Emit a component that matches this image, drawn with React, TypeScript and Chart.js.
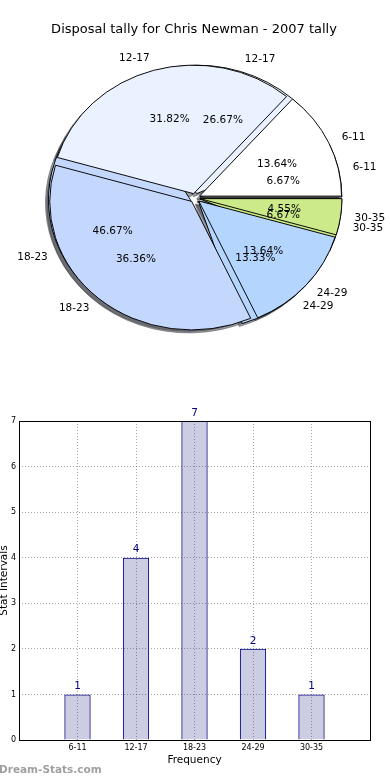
import React, { useEffect, useRef } from 'react';
import { Chart, registerables } from 'chart.js';

Chart.register(...registerables);

// ---------- data ----------
const categories = ['6-11', '12-17', '18-23', '24-29', '30-35'];
const pieTallyA = [1, 4, 7, 2, 1]; // lower pie (percent of 15)
const pieTallyB = [3, 7, 8, 3, 1]; // upper pie (percent of 22)
const barValues = [1, 4, 7, 2, 1];
const pieColors = ['#ffffff', '#eaf1ff', '#c4d8fe', '#b4d5fe', '#cdea8b'];
const chartTitle = 'Disposal tally for Chris Newman - 2007 tally';
const xAxisTitle = 'Frequency';
const yAxisTitle = 'Stat Intervals';
const watermark = 'Dream-Stats.com';

// ---------- style ----------
const FONT = '"DejaVu Sans", Verdana, sans-serif';
const K = 0.905; // vertical squash of the pie (ellipse)
const R = 142; // pie radius
const EXPLODE = 5; // wedge offset in px

const rev = <T,>(a: T[]) => [...a].reverse();

function pieConfig(values: number[], plugin: any) {
  return {
    type: 'pie' as const,
    data: {
      labels: rev(categories),
      datasets: [
        {
          data: rev(values),
          backgroundColor: rev(pieColors),
          borderColor: '#000000',
          borderWidth: 1,
          borderAlign: 'center',
        },
      ],
    },
    options: {
      animation: false,
      responsive: false,
      events: [],
      radius: R,
      rotation: 90,
      layout: { padding: { top: 0, bottom: 4, left: 0, right: 0 } },
      plugins: { legend: { display: false }, tooltip: { enabled: false }, title: { display: false } },
    },
    plugins: [plugin],
  };
}

function arcPath(ctx: CanvasRenderingContext2D, a: any) {
  const mid = (a.startAngle + a.endAngle) / 2;
  const ox = a.x + Math.cos(mid) * EXPLODE;
  const oy = a.y + Math.sin(mid) * EXPLODE;
  ctx.beginPath();
  ctx.moveTo(ox, oy);
  ctx.arc(ox, oy, a.outerRadius, a.startAngle, a.endAngle);
  ctx.closePath();
}

function drawPie(chart: any, shadowFrom: any[] | null) {
  const ctx: CanvasRenderingContext2D = chart.ctx;
  const arcs = chart.getDatasetMeta(0).data;
  if (!arcs.length) return false;
  const cx = arcs[0].x;
  const cy = arcs[0].y;
  ctx.save();
  if (shadowFrom) {
    ctx.save();
    ctx.translate(-3, 3);
    ctx.translate(cx, cy);
    ctx.scale(1, K);
    ctx.translate(-cx, -cy);
    ctx.fillStyle = 'rgba(60,62,70,0.5)';
    ctx.strokeStyle = 'rgba(60,62,70,0.5)';
    ctx.lineWidth = 1;
    for (const c of shadowFrom) {
      if (!c) continue;
      for (const a of c.getDatasetMeta(0).data) {
        arcPath(ctx, a);
        ctx.fill();
        ctx.stroke();
      }
    }
    ctx.restore();
  }
  ctx.translate(cx, cy);
  ctx.scale(1, K);
  ctx.translate(-cx, -cy);
  for (const a of arcs) {
    const mid = (a.startAngle + a.endAngle) / 2;
    ctx.save();
    ctx.translate(Math.cos(mid) * EXPLODE, Math.sin(mid) * EXPLODE);
    a.draw(ctx);
    ctx.restore();
  }
  ctx.restore();
  return false;
}

function PieStack() {
  const lowRef = useRef<HTMLCanvasElement>(null);
  const topRef = useRef<HTMLCanvasElement>(null);

  useEffect(() => {
    const refs: { low: any; top: any } = { low: null, top: null };

    const lowPlugin = {
      id: 'lowPie',
      beforeDatasetsDraw(chart: any) {
        return drawPie(chart, [chart, refs.top]);
      },
    };

    const topPlugin = {
      id: 'topPie',
      beforeDatasetsDraw(chart: any) {
        return drawPie(chart, null);
      },
      afterDraw(chart: any) {
        const ctx: CanvasRenderingContext2D = chart.ctx;
        ctx.save();
        ctx.fillStyle = '#000';
        ctx.textBaseline = 'middle';
        ctx.font = `13px ${FONT}`;
        ctx.textAlign = 'center';
        ctx.fillText(chartTitle, 194, 30);
        ctx.font = `10.5px ${FONT}`;
        for (const c of [refs.low, chart]) {
          if (!c) continue;
          const ds = c.data.datasets[0];
          const vals: number[] = ds.data;
          const total = vals.reduce((s, v) => s + v, 0);
          c.getDatasetMeta(0).data.forEach((a: any, i: number) => {
            const mid = (a.startAngle + a.endAngle) / 2;
            const cs = Math.cos(mid);
            const sn = Math.sin(mid);
            const ex = a.x + cs * EXPLODE;
            const ey = a.y + K * sn * EXPLODE;
            const r = a.outerRadius;
            ctx.textAlign = cs >= 0 ? 'left' : 'right';
            ctx.fillText(c.data.labels[i], ex + 1.1 * r * cs, ey + 1.1 * r * K * sn);
            ctx.textAlign = 'center';
            ctx.fillText(((vals[i] / total) * 100).toFixed(2) + '%', ex + 0.6 * r * cs, ey + 0.6 * r * K * sn);
          });
        }
        ctx.restore();
      },
    };

    refs.low = new Chart(lowRef.current as HTMLCanvasElement, pieConfig(pieTallyA, lowPlugin) as any);
    refs.top = new Chart(topRef.current as HTMLCanvasElement, pieConfig(pieTallyB, topPlugin) as any);
    refs.low.draw();
    refs.top.draw();

    return () => {
      refs.top && refs.top.destroy();
      refs.low && refs.low.destroy();
    };
  }, []);

  const st: React.CSSProperties = { position: 'absolute', left: 0, top: 0, width: 390, height: 400 };
  return (
    <>
      <canvas ref={lowRef} width={390} height={400} style={st} />
      <canvas ref={topRef} width={390} height={400} style={st} />
    </>
  );
}

function BarChart() {
  const ref = useRef<HTMLCanvasElement>(null);

  useEffect(() => {
    const deco = {
      id: 'barDeco',
      afterDraw(chart: any) {
        const ctx: CanvasRenderingContext2D = chart.ctx;
        const ca = chart.chartArea;
        ctx.save();
        ctx.strokeStyle = '#000';
        ctx.lineWidth = 1;
        ctx.strokeRect(Math.round(ca.left) + 0.5, Math.round(ca.top) + 0.5, Math.round(ca.right - ca.left), Math.round(ca.bottom - ca.top));
        // value labels
        ctx.fillStyle = '#000080';
        ctx.font = `10.5px ${FONT}`;
        ctx.textAlign = 'center';
        ctx.textBaseline = 'middle';
        const meta = chart.getDatasetMeta(0);
        meta.data.forEach((el: any, i: number) => {
          ctx.fillText(String(barValues[i]), el.x, el.y - 8);
        });
        // axis titles
        ctx.fillStyle = '#000';
        ctx.fillText(xAxisTitle, (ca.left + ca.right) / 2, 360);
        ctx.save();
        ctx.translate(4, (ca.top + ca.bottom) / 2);
        ctx.rotate(-Math.PI / 2);
        ctx.fillText(yAxisTitle, 0, 0);
        ctx.restore();
        // watermark
        ctx.fillStyle = '#a0a0a0';
        ctx.font = `bold 10.5px ${FONT}`;
        ctx.textAlign = 'left';
        ctx.fillText(watermark, -1, 370);
        ctx.restore();
      },
    };

    const chart = new Chart(ref.current as HTMLCanvasElement, {
      type: 'bar',
      data: {
        datasets: [
          {
            data: barValues.map((v, i) => ({ x: i + 1, y: v })),
            backgroundColor: 'rgba(0,0,110,0.2)',
            borderColor: '#000080',
            borderWidth: 1,
            barPercentage: 0.45,
            categoryPercentage: 1,
          },
        ],
      },
      options: {
        animation: false,
        responsive: false,
        events: [],
        layout: { padding: { top: 21, right: 20, left: 0, bottom: 0 } },
        plugins: { legend: { display: false }, tooltip: { enabled: false } },
        scales: {
          x: {
            type: 'linear',
            min: 0,
            max: 6,
            offset: false,
            afterFit: (s: any) => {
              s.height = 40;
            },
            ticks: {
              stepSize: 1,
              autoSkip: false,
              maxRotation: 0,
              padding: 3,
              color: '#000',
              font: { family: FONT, size: 8 },
              callback: (v: any) => (categories[Number(v) - 1] !== undefined ? categories[Number(v) - 1] : ''),
            },
            grid: { color: 'rgba(0,0,0,0.35)', drawTicks: false, lineWidth: 1, offset: false },
            border: { display: false, dash: [1, 2] },
          },
          y: {
            min: 0,
            max: 7,
            afterFit: (s: any) => {
              s.width = 19;
            },
            ticks: {
              stepSize: 1,
              padding: 3,
              color: '#000',
              font: { family: FONT, size: 8 },
            },
            grid: { color: 'rgba(0,0,0,0.35)', drawTicks: false, lineWidth: 1 },
            border: { display: false, dash: [1, 2] },
          },
        },
      },
      plugins: [deco],
    } as any);

    return () => chart.destroy();
  }, []);

  return <canvas ref={ref} width={390} height={380} style={{ position: 'absolute', left: 0, top: 400, width: 390, height: 380 }} />;
}

export default function App() {
  return (
    <div style={{ position: 'absolute', left: 0, top: 0, width: 390, height: 780, background: '#fff', overflow: 'hidden' }}>
      <PieStack />
      <BarChart />
    </div>
  );
}
